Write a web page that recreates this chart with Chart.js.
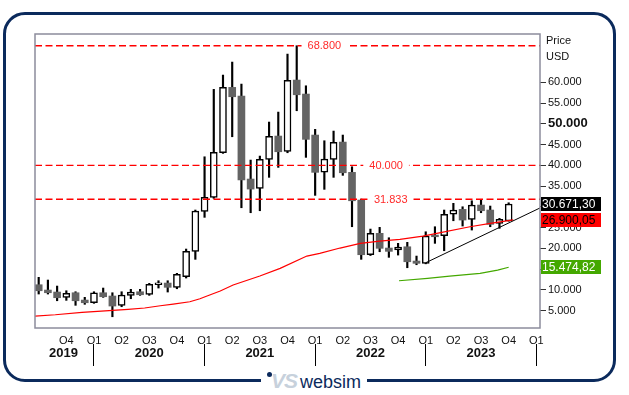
<!DOCTYPE html>
<html><head><meta charset="utf-8">
<script src="https://cdn.jsdelivr.net/npm/chart.js@4.4.0/dist/chart.umd.min.js"></script>
<style>
html,body{margin:0;padding:0;background:#fff;}
#wrap{position:relative;width:629px;height:395px;overflow:hidden;font-family:"Liberation Sans",Arial,sans-serif;}
#c{position:absolute;left:0;top:0;}
#frame{position:absolute;left:3px;top:12px;width:613px;height:370px;border:3px solid #0b2a5c;border-radius:22px;box-sizing:border-box;pointer-events:none;}
#logo{position:absolute;left:261px;top:368px;width:106px;height:27px;background:#fff;}
#dot{position:absolute;left:6px;top:4px;width:5px;height:5px;border-radius:50%;background:#0b2a5c;}
#vs{position:absolute;left:10px;top:1px;font:italic bold 21px "Liberation Sans",Arial,sans-serif;color:#c7d1dc;letter-spacing:-1px;line-height:normal;}
#ws{position:absolute;left:39px;top:4px;font:18px "Liberation Sans",Arial,sans-serif;color:#0b2a5c;line-height:normal;}
</style></head>
<body>
<div id="wrap">
<canvas id="c" width="629" height="395"></canvas>
<div id="frame"></div>
<div id="logo"><span id="dot"></span><span id="vs">VS</span><span id="ws">websim</span></div>
</div>
<script>
// ---- data (monthly candles, Jul 2019 .. Oct 2023) ----
const months = ['2019-07','2019-08','2019-09','2019-10','2019-11','2019-12',
 '2020-01','2020-02','2020-03','2020-04','2020-05','2020-06','2020-07','2020-08','2020-09','2020-10','2020-11','2020-12',
 '2021-01','2021-02','2021-03','2021-04','2021-05','2021-06','2021-07','2021-08','2021-09','2021-10','2021-11','2021-12',
 '2022-01','2022-02','2022-03','2022-04','2022-05','2022-06','2022-07','2022-08','2022-09','2022-10','2022-11','2022-12',
 '2023-01','2023-02','2023-03','2023-04','2023-05','2023-06','2023-07','2023-08','2023-09','2023-10'];
const open  = [11270, 9990, 9510, 8230, 9340, 7580, 6930, 9340, 8550, 6310, 8710, 9580, 8950, 11300, 11670, 10640, 13190, 19300,
 28930, 32300, 43040, 58780, 56690, 36710, 34470, 41450, 47060, 43370, 60540, 57170,
 47300, 38390, 41450, 45610, 38320, 31650, 18490, 23640, 20100, 19620, 20410, 16970,
 16420, 23230, 23060, 28280, 29410, 27010, 30450, 29250, 26040, 26600];
const high  = [13050, 12400, 10950, 9820, 9580, 8230, 9580, 10470, 9340, 9580, 10160, 10160, 11600, 12230, 12230, 14010, 19860, 29250,
 42070, 58300, 61740, 64870, 59570, 41280, 42240, 50430, 52830, 66790, 68800, 59160,
 48670, 45930, 48260, 47300, 39670, 31890, 24670, 25080, 22580, 21230, 21470, 18170,
 24020, 25230, 29250, 30860, 30040, 31480, 31833, 30210, 27250, 31000];
const low   = [9030, 9030, 7410, 7510, 6310, 6550, 6790, 8230, 3560, 5970, 7900, 8710, 8710, 10470, 9510, 10300, 12880, 17380,
 27490, 32060, 42890, 46890, 29800, 28600, 29080, 37120, 39520, 43040, 53150, 41930,
 32780, 34230, 37120, 37600, 25230, 17380, 18300, 19210, 17860, 18410, 15360, 16080,
 16300, 21230, 19450, 26670, 25390, 24430, 28600, 25230, 24840, 26550];
const close = [9820, 9340, 8140, 9200, 7410, 6930, 9340, 8380, 6140, 8790, 9510, 8860, 11360, 11750, 10640, 13770, 19300, 29000,
 32300, 43130, 58780, 56520, 36470, 34300, 41450, 46990, 43280, 60460, 57000, 46260,
 38320, 41520, 45540, 38220, 31480, 18490, 23640, 20030, 19300, 20340, 16800, 16420,
 22990, 22820, 28210, 29250, 26840, 30450, 29080, 25800, 27010, 30671.30];

// moving average (red) at month positions
const maX = [-0.4, 1.8, 4.7, 6.8, 9.7, 11.5, 13.2, 14.6, 16.4, 17.5, 18.2, 19.7, 21.1, 24.0, 26.2, 29.1, 30.5, 32.7, 34.9, 37.0, 39.2, 41.7, 43.2, 46.8, 49.0, 51.5];
const maY = [3730, 4040, 4620, 4930, 5340, 5660, 6210, 6620, 7170, 7900, 8500, 9750, 11190, 13360, 15210, 18170, 18820, 20100, 21230, 21780, 22190, 22990, 23640, 25230, 26040, 26900.05];
// green line
const gX = [39.1, 42.2, 44.6, 47.9, 49.8, 51.0];
const gY = [12230, 12800, 13360, 14010, 14800, 15474.82];
// black trend line
const tX = [42.0, 54.4];
const tY = [16560, 29750];
// horizontal levels
const levels = [68800, 40000, 31833];
const levelText = ['68.800', '40.000', '31.833'];
// last values boxes
const lastValues = [30671.30, 26900.05, 15474.82];
// ticks
const yTicks = [5000,10000,15000,20000,25000,30000,35000,40000,45000,50000,55000,60000];
const qTicks = [3,6,9,12,15,18,21,24,27,30,33,36,39,42,45,48,51,54];
const qLabels = ['Q4','Q1','Q2','Q3','Q4','Q1','Q2','Q3','Q4','Q1','Q2','Q3','Q4','Q1','Q2','Q3','Q4','Q1'];
const yearPos = [2.7, 12, 24, 36, 48];
const yearLabels = ['2019','2020','2021','2022','2023'];
const yearSeps = [6, 18, 30, 42, 54];

// ---- chart ----
const FONT = '"Liberation Sans", Arial, sans-serif';
const xMin = -0.40, xMax = 54.40, yMin = 852, yMax = 71627;
const fmtInt = v => String(Math.round(v)).replace(/\B(?=(\d{3})+(?!\d))/g, '.');
const fmtDec = v => { const p = v.toFixed(2).split('.'); return fmtInt(+p[0]) + ',' + p[1]; };
const up = i => close[i] >= open[i];

const bodies = months.map((m, i) => ({x: i, y: [open[i], close[i]]}));
const wicks = months.map((m, i) => ({x: i, y: [low[i], high[i]]}));

const levelSets = levels.map((v, i) => ({
  type: 'line', label: 'L' + i, data: [{x: xMin, y: v}, {x: xMax, y: v}],
  borderColor: '#ff0000', borderWidth: 1.4, borderDash: [7, 3.5], pointRadius: 0, order: -1
}));

const overlay = {
  id: 'overlay',
  beforeDraw(chart) {
    const ctx = chart.ctx;
    ctx.save(); ctx.fillStyle = '#fff'; ctx.fillRect(0, 0, chart.width, chart.height); ctx.restore();
  },
  afterDatasetsDraw(chart) {
    const {ctx, chartArea: a, scales: {x, y}} = chart;
    const labelAt = [31.0, 37.7, 38.2];
    ctx.save();
    ctx.font = '11px ' + FONT;
    ctx.textAlign = 'center'; ctx.textBaseline = 'middle';
    levels.forEach((v, i) => {
      const py = y.getPixelForValue(v), px = x.getPixelForValue(labelAt[i]);
      const w = ctx.measureText(levelText[i]).width;
      ctx.fillStyle = '#fff';
      ctx.fillRect(px - w / 2 - 6, py - 5, w + 12, 10);
      ctx.fillStyle = '#ff2a2a';
      ctx.fillText(levelText[i], px, py + 0.5);
    });
    ctx.strokeStyle = '#8c8c9c'; ctx.lineWidth = 1.5;
    ctx.strokeRect(a.left, a.top, a.right - a.left, a.bottom - a.top);
    ctx.restore();
  },
  afterDraw(chart) {
    const {ctx, chartArea: a, scales: {y}} = chart;
    const styles = [['#000000', '#ffffff'], ['#ff0000', '#000000'], ['#44a800', '#ffffff']];
    ctx.save();
    ctx.font = '12px ' + FONT;
    ctx.textBaseline = 'middle'; ctx.textAlign = 'left';
    lastValues.forEach((v, i) => {
      const py = Math.round(y.getPixelForValue(v));
      ctx.fillStyle = styles[i][0];
      ctx.fillRect(a.right + 1, py - 7, 60, 14);
      ctx.fillStyle = styles[i][1];
      ctx.fillText(fmtDec(v), a.right + 2, py + 0.5);
    });
    ctx.fillStyle = '#111';
    ctx.font = '11px ' + FONT;
    ctx.fillText('Price', a.right + 6, 41);
    ctx.fillText('USD', a.right + 6, 57);
    ctx.restore();
  }
};

new Chart(document.getElementById('c'), {
  type: 'bar',
  data: {
    datasets: [
      {type: 'line', label: 'Trend', data: tX.map((v, i) => ({x: v, y: tY[i]})), borderColor: '#000', borderWidth: 1, pointRadius: 0, order: -3},
      {type: 'line', label: 'MA', data: maX.map((v, i) => ({x: v, y: maY[i]})), borderColor: '#ff0000', borderWidth: 1.2, pointRadius: 0, order: -2},
      {type: 'line', label: 'MA2', data: gX.map((v, i) => ({x: v, y: gY[i]})), borderColor: '#44a800', borderWidth: 1.2, pointRadius: 0, order: -2},
      ...levelSets,
      {label: 'Body', data: bodies,
        backgroundColor: c => up(c.dataIndex) ? '#ffffff' : '#646464',
        borderColor: c => up(c.dataIndex) ? '#000000' : '#646464',
        borderWidth: c => up(c.dataIndex) ? 1.5 : 0,
        borderSkipped: false, barThickness: 7, grouped: false, order: 0},
      {label: 'Wick', data: wicks, backgroundColor: '#000', borderWidth: 0, barThickness: 1.5, grouped: false, order: 1}
    ]
  },
  options: {
    responsive: false, animation: false, devicePixelRatio: 1,
    layout: {padding: {left: 35, top: 34, right: 0, bottom: 29}},
    plugins: {legend: {display: false}, tooltip: {enabled: false}},
    scales: {
      x: {
        type: 'linear', min: xMin, max: xMax, offset: false, bounds: 'data', position: 'bottom',
        grid: {display: false, drawTicks: false, offset: false}, border: {display: false},
        afterBuildTicks: s => { s.ticks = qTicks.map(v => ({value: v})); },
        ticks: {autoSkip: false, maxRotation: 0, padding: 6, color: '#111', font: {size: 11, family: FONT},
          callback: v => { const k = qTicks.indexOf(v); return k >= 0 ? qLabels[k] : ''; }},
        afterFit: s => { s.height = 16; }
      },
      x2: {
        type: 'linear', min: xMin, max: xMax, offset: false, bounds: 'data', position: 'bottom',
        grid: {display: true, drawOnChartArea: false, drawTicks: true, tickLength: 22, lineWidth: 1, offset: false,
          color: c => (c.tick && yearSeps.includes(c.tick.value)) ? '#000' : 'rgba(0,0,0,0)'},
        border: {display: false},
        afterBuildTicks: s => { s.ticks = [...yearPos, ...yearSeps].sort((a, b) => a - b).map(v => ({value: v})); },
        ticks: {autoSkip: false, maxRotation: 0, padding: -20, color: '#111', font: {size: 13, weight: 'bold', family: FONT},
          callback: v => { const k = yearPos.indexOf(v); return k >= 0 ? yearLabels[k] : ''; }},
        afterFit: s => { s.height = 22; }
      },
      y: {
        type: 'linear', position: 'right', min: yMin, max: yMax, bounds: 'data',
        afterBuildTicks: s => { s.ticks = yTicks.map(v => ({value: v})); },
        grid: {display: true, drawOnChartArea: false, drawTicks: true, tickLength: 6, color: '#333', lineWidth: 1},
        border: {display: false},
        ticks: {padding: 2, color: '#111',
          font: c => (c.tick && c.tick.value === 50000) ? {size: 13, weight: 'bold', family: FONT} : {size: 11, family: FONT},
          callback: v => fmtInt(v)},
        afterFit: s => { s.width = 89; }
      }
    }
  },
  plugins: [overlay]
});
</script>
</body></html>
